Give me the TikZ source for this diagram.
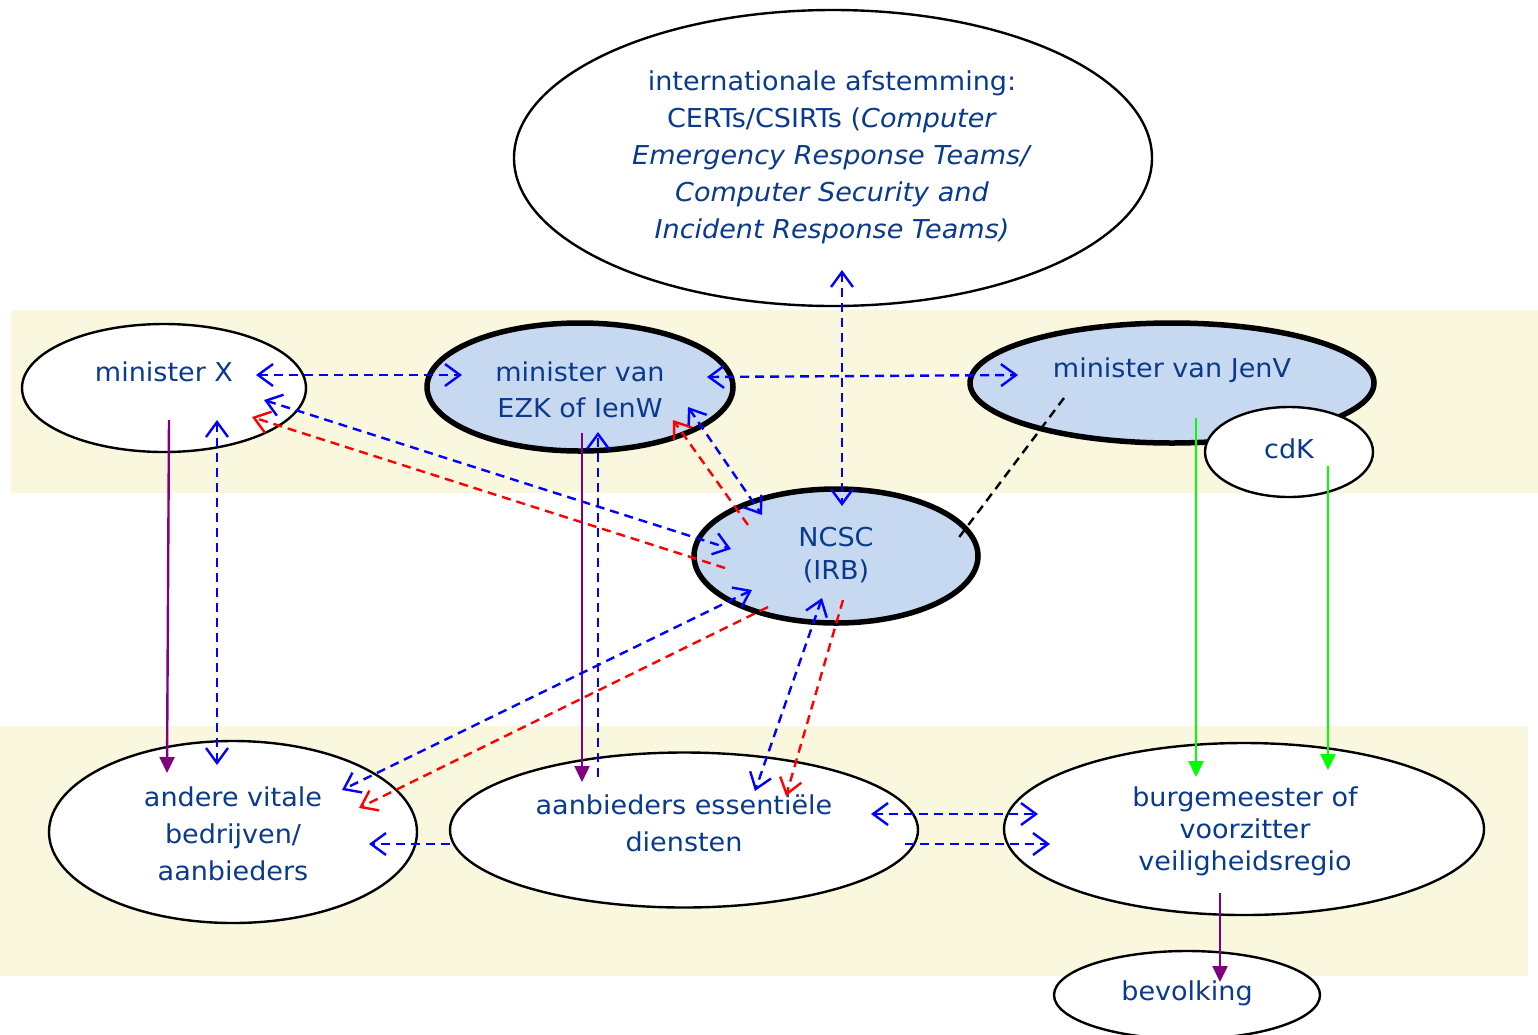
\documentclass[tikz,border=0pt]{standalone}
\usepackage{fontspec}
\setmainfont{DejaVu Sans}[ItalicFont={DejaVu Sans Oblique},FakeStretch=1.04]
\usetikzlibrary{arrows.meta,shapes.geometric}
\definecolor{band}{RGB}{249,247,222}
\definecolor{nodeblue}{RGB}{198,217,240}
\definecolor{txt}{RGB}{10,58,140}
\definecolor{purp}{RGB}{128,0,128}
\definecolor{grn}{RGB}{0,255,0}
\begin{document}
\begin{tikzpicture}[x=1pt,y=-1pt,
  >={Straight Barb[length=15pt,width=22pt]},
  ell/.style={ellipse, draw=black, line width=2.4pt, fill=white, inner sep=0pt},
  ellk/.style={ell, line width=5.5pt, fill=nodeblue},
  lbl/.style={text=txt, font=\fontsize{26}{37}\selectfont, align=center, inner sep=0pt},
  dsh/.style={line width=2.4pt, dash pattern=on 9pt off 6pt},
  bd/.style={dsh, draw=blue},
  rdd/.style={dsh, draw=red},
  kd/.style={dsh, draw=black},
  sol/.style={line width=2.4pt, -{Triangle[length=16pt,width=15pt]}},
  pu/.style={sol, draw=purp, fill=purp},
  gr/.style={sol, draw=grn, fill=grn}]
\useasboundingbox (0,0) rectangle (1538,1034);
% bands
\fill[band] (11,310) rectangle (1538,493);
\fill[band] (0,726) rectangle (1528,976);
% ellipses
\node[ell, minimum width=638pt, minimum height=296pt] (top) at (833,158) {};
\node[ell, minimum width=284pt, minimum height=128pt] (mx) at (164,388) {};
\node[ellk, minimum width=306pt, minimum height=128pt] (ezk) at (580,387) {};
\node[ellk, minimum width=404pt, minimum height=120pt] (jenv) at (1172,383) {};
\node[ell, minimum width=168pt, minimum height=90pt] (cdk) at (1289,452) {};
\node[ellk, minimum width=284pt, minimum height=134pt] (ncsc) at (836,556) {};
\node[ell, minimum width=368pt, minimum height=182pt] (avb) at (233,832) {};
\node[ell, minimum width=468pt, minimum height=155pt] (aed) at (684,830) {};
\node[ell, minimum width=480pt, minimum height=172pt] (bvr) at (1244,829) {};
\node[ell, minimum width=266pt, minimum height=88pt] (bev) at (1187,995) {};
% texts
\node[lbl] (ttop) at (832,157) {internationale afstemming:\\CERTs/CSIRTs (\textit{Computer}\\\textit{Emergency Response Teams/}\\\textit{Computer Security and}\\\textit{Incident Response Teams)}};
\node[lbl] (tmx) at (164,372) {minister X};
\node[lbl, font=\fontsize{26}{36}\selectfont] (tezk) at (580,390) {minister van\\EZK of IenW};
\node[lbl] (tjenv) at (1172,370) {minister van JenV};
\node[lbl] (tcdk) at (1289,449) {cdK};
\node[lbl, font=\fontsize{26}{33}\selectfont] (tncsc) at (836,555) {NCSC\\(IRB)};
\node[lbl] (tavb) at (233,834) {andere vitale\\bedrijven/\\aanbieders};
\node[lbl] (taed) at (684,823) {aanbieders essentiële\\diensten};
\node[lbl, font=\fontsize{26}{32}\selectfont] (tbvr) at (1245,831) {burgemeester of\\voorzitter\\veiligheidsregio};
\node[lbl] (tbev) at (1187,993) {bevolking};
% connectors
\draw[bd,<->] ([shift={(92,-13)}]mx.center) -- ([shift={(-118,-12)}]ezk.center);
\draw[bd,<->] ([shift={(127,-10)}]ezk.center) -- ([shift={(-154,-8)}]jenv.center);
\draw[bd,<->] ([shift={(9,112)}]top.center) -- ([shift={(6,-50)}]ncsc.center);
\draw[bd,<->] ([shift={(100,12)}]mx.center) -- ([shift={(-105,-7)}]ncsc.center);
\draw[rdd,->] ([shift={(-111,12)}]ncsc.center) -- ([shift={(88,29)}]mx.center);
\draw[bd,<->] ([shift={(108,20)}]ezk.center) -- ([shift={(-74,-41)}]ncsc.center);
\draw[rdd,->] ([shift={(-88,-31)}]ncsc.center) -- ([shift={(93,33)}]ezk.center);
\draw[bd,<->] ([shift={(53,32)}]mx.center) -- ([shift={(-16,-67)}]avb.center);
\draw[pu] ([shift={(5,32)}]mx.center) -- ([shift={(-66,-59)}]avb.center);
\draw[pu] ([shift={(2,46)}]ezk.center) -- ([shift={(-102,-48)}]aed.center);
\draw[bd,->] ([shift={(-86,-53)}]aed.center) -- ([shift={(18,45)}]ezk.center);
\draw[bd,<->] ([shift={(-84,34)}]ncsc.center) -- ([shift={(109,-42)}]avb.center);
\draw[rdd,->] ([shift={(-68,51)}]ncsc.center) -- ([shift={(126,-24)}]avb.center);
\draw[bd,<->] ([shift={(-14,42)}]ncsc.center) -- ([shift={(71,-39)}]aed.center);
\draw[rdd,->] ([shift={(7,44)}]ncsc.center) -- ([shift={(102,-34)}]aed.center);
\draw[bd,->] ([shift={(-234,14)}]aed.center) -- ([shift={(136,12)}]avb.center);
\draw[bd,<->] ([shift={(187,-16)}]aed.center) -- ([shift={(-206,-15)}]bvr.center);
\draw[bd,->] ([shift={(221,14)}]aed.center) -- ([shift={(-194,15)}]bvr.center);
\draw[gr] ([shift={(24,35)}]jenv.center) -- ([shift={(-48,-52)}]bvr.center);
\draw[gr] ([shift={(39,14)}]cdk.center) -- ([shift={(84,-59)}]bvr.center);
\draw[kd] ([shift={(-108,15)}]jenv.center) -- ([shift={(121,-16)}]ncsc.center);
\draw[pu] ([shift={(-24,64)}]bvr.center) -- ([shift={(33,-13)}]bev.center);
\end{tikzpicture}
\end{document}
